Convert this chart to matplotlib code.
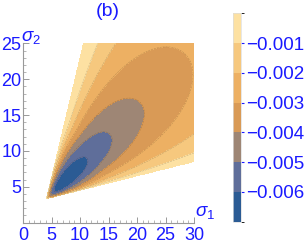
import numpy as np
import matplotlib
matplotlib.use("Agg")
import matplotlib.pyplot as plt
from matplotlib.colors import ListedColormap, BoundaryNorm

plt.rcParams['font.family'] = ['Liberation Sans', 'DejaVu Sans']
plt.rcParams['mathtext.fontset'] = 'custom'
plt.rcParams['mathtext.it'] = 'Liberation Sans:italic'
plt.rcParams['mathtext.rm'] = 'Liberation Sans'

# contour levels and band colours (dark = most negative)
levels = [-0.007, -0.006, -0.005, -0.004, -0.003, -0.002, -0.001, 0.0]
band_colors = ['#2b5b94', '#5f6e9a', '#9e8675', '#d99a56', '#edb063', '#f6c87e', '#fde1a2']
cbar_ticks = [-0.006, -0.005, -0.004, -0.003, -0.002, -0.001]
cbar_labels = ['\u22120.006', '\u22120.005', '\u22120.004', '\u22120.003', '\u22120.002', '\u22120.001']
x_ticks = [0, 5, 10, 15, 20, 25, 30]
y_ticks = [5, 10, 15, 20, 25]

# wedge-shaped domain and valley shape
apex = (4.1, 3.3)
upper_edge_pt = (10.6, 25.0)
lower_edge_pt = (30.0, 8.5)
theta_peak = 38.0            # direction of the valley (deg)
f_min, r_min = 0.0068, 4.1   # depth and distance from apex of the minimum
s_near, s_far = 1.7, 1.6     # log-width of the valley along the ray
q_upper, q_lower = 1.1, 0.65

blue = '#1a1aff'
grey = '#999999'

s1 = np.linspace(0, 30, 601)
s2 = np.linspace(0, 25, 501)
X, Y = np.meshgrid(s1, s2)
dx, dy = X - apex[0], Y - apex[1]
r = np.hypot(dx, dy) + 1e-9
th = np.degrees(np.arctan2(dy, dx))
th_u = np.degrees(np.arctan2(upper_edge_pt[1]-apex[1], upper_edge_pt[0]-apex[0]))
th_l = np.degrees(np.arctan2(lower_edge_pt[1]-apex[1], lower_edge_pt[0]-apex[0]))
up = th > theta_peak
d = np.where(up, (th-theta_peak)/(th_u-theta_peak), (theta_peak-th)/(theta_peak-th_l))
dc = np.clip(d, 0, 1)
widen = np.clip(0.4 + r/18, 0, 1)   # valley is broader close to the apex
S = np.where(up, (1-dc**2)**(q_upper*widen), np.cos(np.pi*dc/2)**(q_lower*widen))
lr = np.log(r/r_min)
s = np.where(r < r_min, s_near, s_far)
R = f_min*np.exp(-lr**2/(2*s**2))
Z = -R*S
Z = np.where((d <= 1) & (r > 0.05), Z, np.nan)
Z = np.minimum(Z, -1e-9)

fig = plt.figure(figsize=(3.05, 2.43), dpi=100)
ax = fig.add_axes([23/305, 1-222.5/243, 171/305, 179/243])
cmap = ListedColormap(band_colors)
norm = BoundaryNorm(levels, cmap.N)
ax.contourf(X, Y, Z, levels=levels, cmap=cmap, norm=norm)
ax.contour(X, Y, Z, levels=levels[1:-1], colors='k', linewidths=0.4, alpha=0.2)

ax.set_xlim(0, 30)
ax.set_ylim(0, 25)
for side in ['top', 'right']:
    ax.spines[side].set_visible(False)
for side in ['left', 'bottom']:
    ax.spines[side].set_color(grey)
    ax.spines[side].set_linewidth(0.8)
ax.set_xticks(x_ticks)
ax.set_yticks(y_ticks)
ax.set_xticks(np.arange(0, 31, 1), minor=True)
ax.set_yticks(np.arange(0, 26, 1), minor=True)
ax.tick_params(which='both', direction='in', color=grey, labelcolor=blue, labelsize=13)
ax.tick_params(which='major', length=4, width=0.7)
ax.tick_params(which='minor', length=2, width=0.5)
ax.tick_params(axis='x', which='major', pad=3)
ax.tick_params(axis='y', which='major', pad=1)
ax.text(-0.3, 24.7, r'$\sigma_2$', color=blue, fontsize=13.5, ha='left', va='bottom')
ax.text(30.2, 0.2, r'$\sigma_1$', color=blue, fontsize=13.5, ha='left', va='bottom')
fig.text(108/305, 1-11/243, '(b)', color=blue, fontsize=14, ha='center', va='center')

cax = fig.add_axes([233/305, 1-221.7/243, 8/305, 208.4/243])
sm = matplotlib.cm.ScalarMappable(cmap=cmap, norm=norm)
cb = fig.colorbar(sm, cax=cax, boundaries=levels, ticks=cbar_ticks)
cb.ax.set_yticklabels(cbar_labels)
cb.outline.set_edgecolor('#dddddd')
cb.outline.set_linewidth(0.5)
cb.ax.tick_params(length=2, color=blue, labelcolor=blue, labelsize=13.5, pad=2)

fig.savefig('out.png', dpi=100)
